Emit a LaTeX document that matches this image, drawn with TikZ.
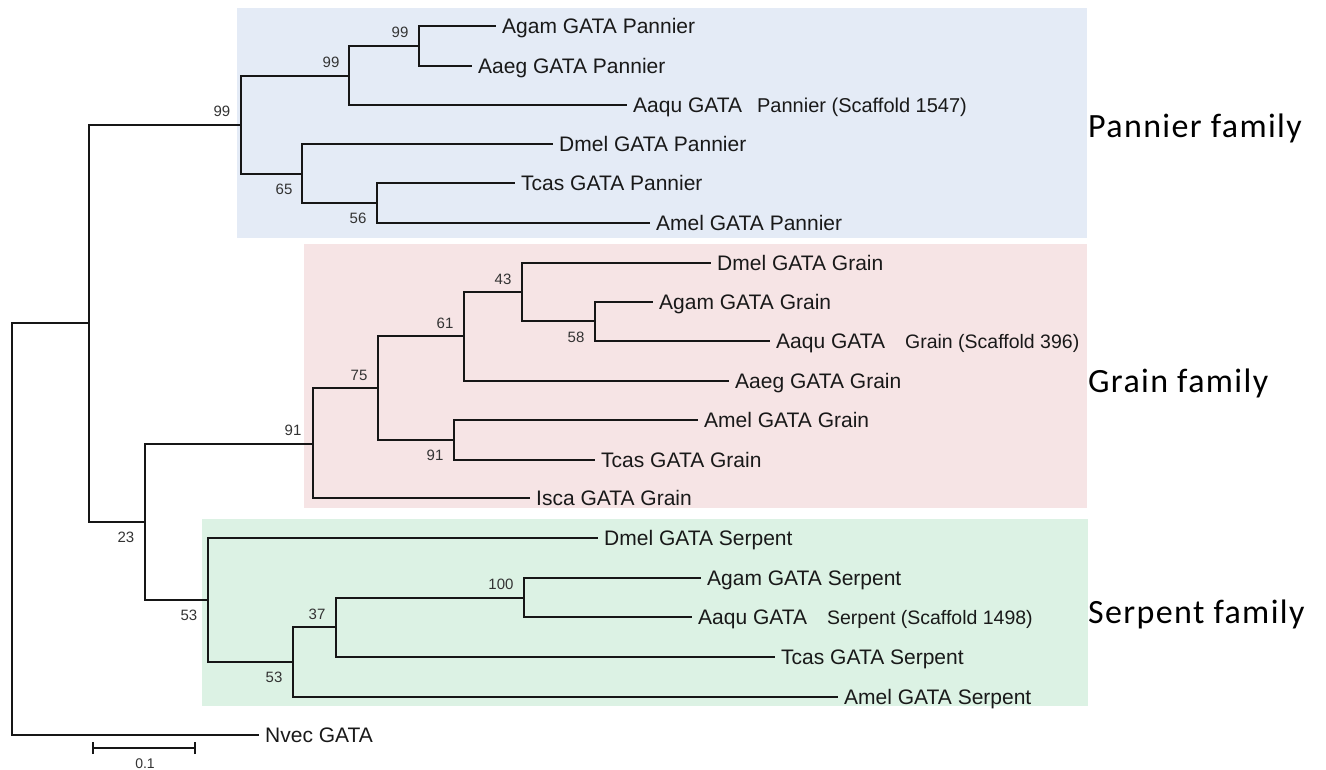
\documentclass[tikz,border=0pt]{standalone}
\usepackage{fontspec}
\setmainfont{Liberation Sans}
\newfontfamily\famfont[LetterSpace=4]{Carlito}
\usepackage{tikz}
\usepackage{xcolor}
\definecolor{panbg}{RGB}{228,235,246}
\definecolor{grabg}{RGB}{246,228,229}
\definecolor{serbg}{RGB}{220,242,228}
\definecolor{treeline}{RGB}{22,22,22}

\begin{document}
\begin{tikzpicture}[x=1pt,y=-1pt]
	\useasboundingbox (0,0) rectangle (1326,770);
	% family boxes
	\fill[panbg] (237,8) rectangle (1087,238);
	\fill[grabg] (304,244) rectangle (1087,508);
	\fill[serbg] (202,519) rectangle (1088,706);
	\tikzstyle{twig}=[draw=treeline,line width=1.8pt]
	\tikzstyle{leaf}=[anchor=west,inner xsep=6pt,inner ysep=0pt,text height=15pt,text depth=0pt,font=\fontsize{21}{24}\selectfont,text=black!90]
	\tikzstyle{boot}=[inner sep=0pt,font=\fontsize{15}{18}\selectfont,text=black!80]
	\tikzstyle{fam}=[anchor=west,inner sep=0pt,text height=21pt,text depth=0pt,font=\famfont\fontsize{34}{38}\selectfont]
	% inner nodes
	\coordinate (R) at (12,529);
	\coordinate (A) at (89,323);
	\coordinate (B) at (145,522);
	\coordinate (P) at (241,125);
	\coordinate (P1) at (349,76);
	\coordinate (P2) at (419,46);
	\coordinate (P3) at (302,174);
	\coordinate (P4) at (377,203);
	\coordinate (G) at (313,444);
	\coordinate (G1) at (378,388);
	\coordinate (G2) at (464,336);
	\coordinate (G3) at (522,292);
	\coordinate (G4) at (595,321);
	\coordinate (G5) at (454,440);
	\coordinate (S) at (208,600);
	\coordinate (S1) at (293,662);
	\coordinate (S2) at (336,627);
	\coordinate (S3) at (524,598);
	% leaves
	\node[leaf] (pAgam) at (496,26) {Agam GATA Pannier};
	\node[leaf] (pAaeg) at (472,66) {Aaeg GATA Pannier};
	\node[leaf] (pAaqu) at (627,105) {Aaqu GATA\hspace{15pt}{\fontsize{20}{24}\selectfont Pannier (Scaffold 1547)}};
	\node[leaf] (pDmel) at (553,144) {Dmel GATA Pannier};
	\node[leaf] (pTcas) at (515,183) {Tcas GATA Pannier};
	\node[leaf] (pAmel) at (650,223) {Amel GATA Pannier};
	\node[leaf] (gDmel) at (711,263) {Dmel GATA Grain};
	\node[leaf] (gAgam) at (653,302) {Agam GATA Grain};
	\node[leaf] (gAaqu) at (770,341) {Aaqu GATA\hspace{20pt}{\fontsize{19.5}{24}\selectfont Grain (Scaffold 396)}};
	\node[leaf] (gAaeg) at (729,381) {Aaeg GATA Grain};
	\node[leaf] (gAmel) at (698,420) {Amel GATA Grain};
	\node[leaf] (gTcas) at (595,460) {Tcas GATA Grain};
	\node[leaf] (gIsca) at (530,498) {Isca GATA Grain};
	\node[leaf] (sDmel) at (598,538) {Dmel GATA Serpent};
	\node[leaf] (sAgam) at (701,578) {Agam GATA Serpent};
	\node[leaf] (sAaqu) at (692,617) {Aaqu GATA\hspace{20pt}{\fontsize{19.5}{24}\selectfont Serpent (Scaffold 1498)}};
	\node[leaf] (sTcas) at (775,657) {Tcas GATA Serpent};
	\node[leaf] (sAmel) at (838,697) {Amel GATA Serpent};
	\node[leaf] (nvec) at (259,735) {Nvec GATA};
	% branches
	\draw[twig] (R) |- (A);
	\draw[twig] (R) |- (nvec.west);
	\draw[twig] (A) |- (P);
	\draw[twig] (A) |- (B);
	\draw[twig] (B) |- (G);
	\draw[twig] (B) |- (S);
	\draw[twig] (P) |- (P1);
	\draw[twig] (P) |- (P3);
	\draw[twig] (P1) |- (P2);
	\draw[twig] (P1) |- (pAaqu.west);
	\draw[twig] (P2) |- (pAgam.west);
	\draw[twig] (P2) |- (pAaeg.west);
	\draw[twig] (P3) |- (pDmel.west);
	\draw[twig] (P3) |- (P4);
	\draw[twig] (P4) |- (pTcas.west);
	\draw[twig] (P4) |- (pAmel.west);
	\draw[twig] (G) |- (G1);
	\draw[twig] (G) |- (gIsca.west);
	\draw[twig] (G1) |- (G2);
	\draw[twig] (G1) |- (G5);
	\draw[twig] (G2) |- (G3);
	\draw[twig] (G2) |- (gAaeg.west);
	\draw[twig] (G3) |- (gDmel.west);
	\draw[twig] (G3) |- (G4);
	\draw[twig] (G4) |- (gAgam.west);
	\draw[twig] (G4) |- (gAaqu.west);
	\draw[twig] (G5) |- (gAmel.west);
	\draw[twig] (G5) |- (gTcas.west);
	\draw[twig] (S) |- (sDmel.west);
	\draw[twig] (S) |- (S1);
	\draw[twig] (S1) |- (S2);
	\draw[twig] (S1) |- (sAmel.west);
	\draw[twig] (S2) |- (S3);
	\draw[twig] (S2) |- (sTcas.west);
	\draw[twig] (S3) |- (sAgam.west);
	\draw[twig] (S3) |- (sAaqu.west);
	% bootstrap values
	\node[boot] (bP) at (222,111) {99};
	\node[boot] (bP1) at (331,62) {99};
	\node[boot] (bP2) at (400,32) {99};
	\node[boot] (bP3) at (284,189) {65};
	\node[boot] (bP4) at (358,218) {56};
	\node[boot] (bB) at (126,537) {23};
	\node[boot] (bG) at (293,430) {91};
	\node[boot] (bG1) at (359,375) {75};
	\node[boot] (bG2) at (445,323) {61};
	\node[boot] (bG3) at (503,279) {43};
	\node[boot] (bG4) at (576,337) {58};
	\node[boot] (bG5) at (435,455) {91};
	\node[boot] (bS) at (189,615) {53};
	\node[boot] (bS1) at (274,677) {53};
	\node[boot] (bS2) at (317,614) {37};
	\node[boot] (bS3) at (501,584) {100};
	% scale bar
	\coordinate (sbL) at (93,748);
	\coordinate (sbR) at (195,748);
	\draw[twig] (sbL) -- (sbR);
	\draw[twig] ([yshift=-6pt]sbL) -- ([yshift=6pt]sbL);
	\draw[twig] ([yshift=-6pt]sbR) -- ([yshift=6pt]sbR);
	\node[boot,font=\fontsize{14}{16}\selectfont] (sbT) at (145,764) {0.1};
	% family labels
	\node[fam] (fPan) at (1088,127) {Pannier family};
	\node[fam] (fGra) at (1088,382) {Grain family};
	\node[fam] (fSer) at (1088,613) {Serpent family};
\end{tikzpicture}
\end{document}
